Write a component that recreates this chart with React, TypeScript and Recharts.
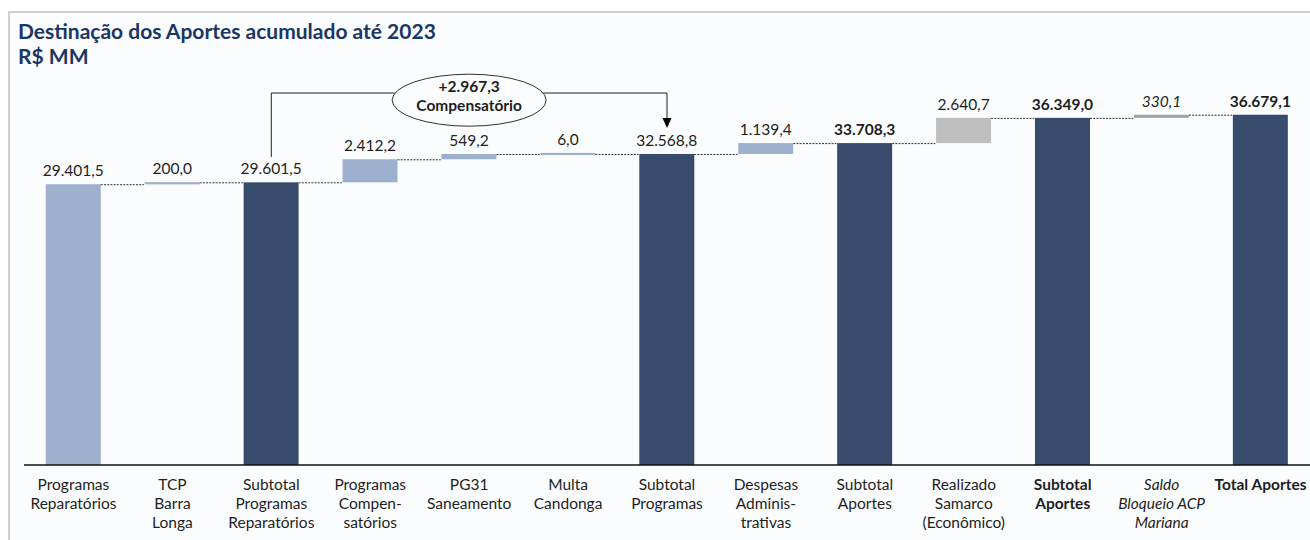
import React from 'react';
import { BarChart, Bar, XAxis, YAxis, ReferenceLine, ReferenceDot } from 'recharts';

// ---- data ----
const categoryIds = ['c0', 'c1', 'c2', 'c3', 'c4', 'c5', 'c6', 'c7', 'c8', 'c9', 'c10', 'c11', 'c12'];
const categoryLabels = [
  ['Programas', 'Reparatórios'],
  ['TCP', 'Barra', 'Longa'],
  ['Subtotal', 'Programas', 'Reparatórios'],
  ['Programas', 'Compen-', 'satórios'],
  ['PG31', 'Saneamento'],
  ['Multa', 'Candonga'],
  ['Subtotal', 'Programas'],
  ['Despesas', 'Adminis-', 'trativas'],
  ['Subtotal', 'Aportes'],
  ['Realizado', 'Samarco', '(Econômico)'],
  ['Subtotal', 'Aportes'],
  ['Saldo', 'Bloqueio ACP', 'Mariana'],
  ['Total Aportes'],
];
const values = [29401.5, 200.0, 29601.5, 2412.2, 549.2, 6.0, 32568.8, 1139.4, 33708.3, 2640.7, 36349.0, 330.1, 36679.1];
const kinds = ['total', 'delta', 'total', 'delta', 'delta', 'delta', 'total', 'delta', 'total', 'delta', 'total', 'delta', 'total'];
const colorKeys = ['light', 'light', 'dark', 'light', 'light', 'light', 'dark', 'light', 'dark', 'gray', 'dark', 'midgray', 'dark'];
const valueLabelStyles = ['n', 'n', 'n', 'n', 'n', 'n', 'n', 'n', 'b', 'n', 'b', 'i', 'b'];
const tickLabelStyles = ['n', 'n', 'n', 'n', 'n', 'n', 'n', 'n', 'n', 'n', 'b', 'i', 'b'];

const annotationText = ['+2.967,3', 'Compensatório'];
const annotationFrom = 'c2';
const annotationTo = 'c6';
const annotationMid = 'c4';
const annotationBottom = 32250; // start of bracket above first subtotal
const annotationTop = 38950; // bracket level
const annotationEllipseY = 38200;
const annotationArrowTip = 35300;

const yDomain = [0, 40000];

// ---- styling ----
const COLORS: Record<string, string> = {
  light: '#9db0ce',
  dark: '#374c6c',
  gray: '#bfbfbf',
  midgray: '#a3a3a3',
};
const FONT = 'Lato, "Open Sans", sans-serif';
const BG = '#fbfcfe';
const GAP_RATIO = 0.22;
const FS = 15.5;

function fmt(v: number): string {
  const fixed = v.toFixed(1);
  const [intPart, dec] = fixed.split('.');
  const withDots = intPart.replace(/\B(?=(\d{3})+(?!\d))/g, '.');
  return `${withDots},${dec}`;
}

// build table
let running = 0;
const data = categoryIds.map((id, i) => {
  let base = 0;
  const delta = values[i];
  if (kinds[i] === 'total') {
    running = values[i];
  } else {
    base = running;
    running = running + values[i];
  }
  return { id, base, delta, idx: i, color: COLORS[colorKeys[i]] };
});

const styleOf = (s: string) => ({
  fontWeight: s === 'b' ? 700 : 400,
  fontStyle: s === 'i' ? 'italic' : 'normal',
});

const DeltaShape = (props: any) => {
  const { x, y, width, height, payload } = props;
  const i = payload.idx;
  const minH = 2.2;
  const h = Math.max(height, minH);
  const yy = height < minH ? y + height / 2 - h / 2 : y;
  const gap = (width * (2 * GAP_RATIO)) / (1 - 2 * GAP_RATIO);
  const st = styleOf(valueLabelStyles[i]);
  return (
    <g>
      <rect x={x} y={yy} width={width} height={h} fill={payload.color} />
      {i < categoryIds.length - 1 && (
        <line
          x1={x + width}
          x2={x + width + gap}
          y1={y + 0.5}
          y2={y + 0.5}
          stroke="#333"
          strokeWidth={1}
          strokeDasharray="2 1.2"
        />
      )}
      <text
        x={x + width / 2}
        y={Math.min(y, yy) - 8}
        textAnchor="middle"
        fontSize={FS}
        fontFamily={FONT}
        fill="#1e1e1e"
        fontWeight={st.fontWeight}
        fontStyle={st.fontStyle}
      >
        {fmt(values[i])}
      </text>
    </g>
  );
};

const Tick = (props: any) => {
  const { x, y, payload } = props;
  const i = categoryIds.indexOf(payload.value);
  const lines = categoryLabels[i] || [];
  const st = styleOf(tickLabelStyles[i]);
  return (
    <text
      x={x}
      y={y}
      textAnchor="middle"
      fontSize={FS}
      fontFamily={FONT}
      fill="#1e1e1e"
      fontWeight={st.fontWeight}
      fontStyle={st.fontStyle}
    >
      {lines.map((l, k) => (
        <tspan key={k} x={x} dy={k === 0 ? 25 : 19}>
          {l}
        </tspan>
      ))}
    </text>
  );
};

const EllipseShape = (props: any) => {
  const { cx, cy } = props;
  return (
    <g>
      <ellipse cx={cx} cy={cy} rx={77} ry={26} fill={BG} stroke="#333" strokeWidth={1} />
      <text x={cx} y={cy - 8} textAnchor="middle" fontSize={FS} fontWeight={700} fontFamily={FONT} fill="#1e1e1e">
        {annotationText[0]}
      </text>
      <text x={cx} y={cy + 11} textAnchor="middle" fontSize={FS} fontWeight={700} fontFamily={FONT} fill="#1e1e1e">
        {annotationText[1]}
      </text>
    </g>
  );
};

const ArrowShape = (props: any) => {
  const { cx, cy } = props;
  return <polygon points={`${cx - 4.5},${cy - 10} ${cx + 4.5},${cy - 10} ${cx},${cy}`} fill="#000" />;
};

export default function App() {
  return (
    <div style={{ position: 'absolute', left: 0, top: 0, width: 1310, height: 540, background: '#fff', overflow: 'hidden' }}>
      <div
        style={{
          position: 'absolute',
          left: 8,
          top: 11,
          width: 1310,
          height: 540,
          borderLeft: '2px solid #cfcfcf',
          borderTop: '2px solid #cfcfcf',
          background: BG,
        }}
      />
      <div
        style={{
          position: 'absolute',
          left: 18,
          top: 18,
          fontFamily: FONT,
          fontWeight: 700,
          fontSize: 21,
          lineHeight: '25px',
          color: '#1b3564',
          whiteSpace: 'nowrap',
        }}
      >
        <div>Destinação dos Aportes acumulado até 2023</div>
        <div>R$ MM</div>
      </div>
      <div style={{ position: 'absolute', left: 0, top: 0 }}>
        <BarChart
          width={1310}
          height={540}
          data={data}
          margin={{ top: 83, right: 0, left: 24, bottom: 0 }}
          barCategoryGap={`${GAP_RATIO * 100}%`}
        >
          <YAxis hide domain={yDomain} />
          <XAxis
            dataKey="id"
            height={75}
            interval={0}
            tickLine={false}
            tickSize={0}
            tickMargin={0}
            axisLine={{ stroke: '#111', strokeWidth: 1.4 }}
            tick={<Tick />}
          />
          <Bar dataKey="base" stackId="w" fill="transparent" isAnimationActive={false} />
          <Bar dataKey="delta" stackId="w" shape={<DeltaShape />} isAnimationActive={false} />
          <ReferenceLine
            segment={[
              { x: annotationFrom, y: annotationBottom },
              { x: annotationFrom, y: annotationTop },
            ]}
            stroke="#222"
            strokeWidth={1}
            ifOverflow="visible"
          />
          <ReferenceLine
            segment={[
              { x: annotationFrom, y: annotationTop },
              { x: annotationTo, y: annotationTop },
            ]}
            stroke="#222"
            strokeWidth={1}
            ifOverflow="visible"
          />
          <ReferenceLine
            segment={[
              { x: annotationTo, y: annotationTop },
              { x: annotationTo, y: annotationArrowTip + 900 },
            ]}
            stroke="#222"
            strokeWidth={1}
            ifOverflow="visible"
          />
          <ReferenceDot x={annotationTo} y={annotationArrowTip} shape={<ArrowShape />} ifOverflow="visible" />
          <ReferenceDot x={annotationMid} y={annotationEllipseY} shape={<EllipseShape />} ifOverflow="visible" />
        </BarChart>
      </div>
    </div>
  );
}
